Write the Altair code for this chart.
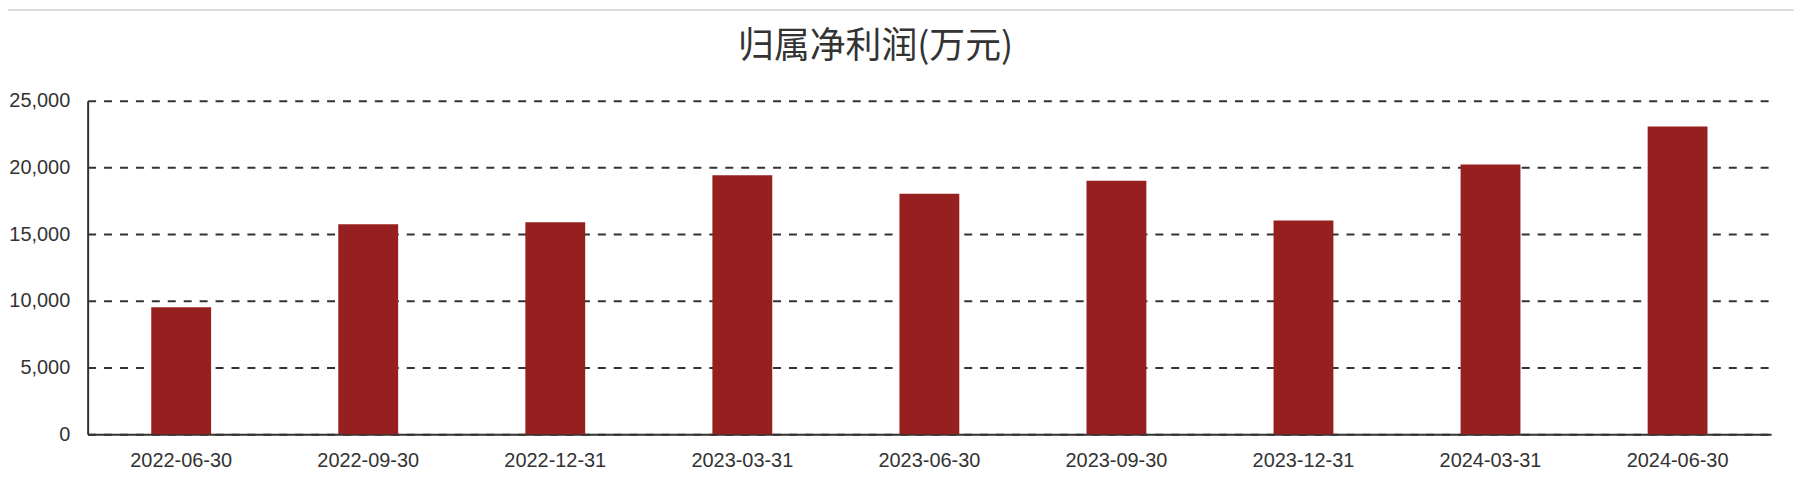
import altair as alt
import pandas as pd

dates = ["2022-06-30", "2022-09-30", "2022-12-31", "2023-03-31", "2023-06-30",
         "2023-09-30", "2023-12-31", "2024-03-31", "2024-06-30"]
values = [9520, 15740, 15890, 19400, 18030, 19000, 16010, 20220, 23060]
y_ticks = [0, 5000, 10000, 15000, 20000, 25000]
title_text = "归属净利润(万元)"

df = pd.DataFrame({"date": dates, "value": values})

bars = alt.Chart(df).mark_bar(color="#96201f").encode(
    x=alt.X("date:N", sort=dates, title=None,
            scale=alt.Scale(paddingInner=0.68, paddingOuter=0.34),
            axis=alt.Axis(labelAngle=0, labelFontSize=20, labelColor="#333",
                          labelFont="Liberation Sans", labelPadding=16,
                          ticks=False, grid=False, domainColor="#333",
                          domainWidth=2)),
    y=alt.Y("value:Q", title=None,
            scale=alt.Scale(domain=[0, 25000], nice=False),
            axis=alt.Axis(values=y_ticks, format=",d", labelFontSize=20,
                          labelColor="#333", labelFont="Liberation Sans",
                          labelPadding=18, ticks=False, grid=True,
                          gridColor="#333", gridDash=[8, 8], gridWidth=2,
                          domainColor="#333", domainWidth=2)),
)

top_line = alt.Chart(alt.Data(values=[{}])).mark_rule(
    color="#dddddd", strokeWidth=2
).encode(x=alt.value(-80), x2=alt.value(1714), y=alt.value(-91))

chart = alt.layer(bars, top_line).properties(
    width=1691,
    height=335,
    autosize=alt.AutoSizeParams(type="none"),
    padding={"left": 80, "top": 92, "right": 23, "bottom": 57},
    title=alt.TitleParams(title_text, fontSize=36, font="Noto Sans CJK SC",
                          fontWeight="normal", color="#333", anchor="middle",
                          frame="group", baseline="alphabetic", offset=-85,
                          dx=-54),
).configure_view(strokeWidth=0)

chart.save("out.html", embed_options={"renderer": "svg", "actions": False})
